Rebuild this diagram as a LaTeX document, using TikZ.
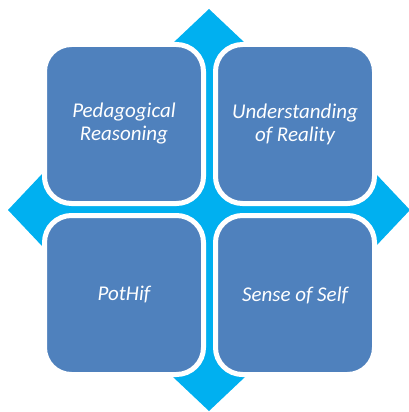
\documentclass[tikz,border=0pt]{standalone}
\usepackage{fontspec}
\setmainfont{Carlito}
\usetikzlibrary{positioning}
\definecolor{tileblue}{HTML}{4F81BD}
\definecolor{arrowcyan}{HTML}{00B0F0}

\begin{document}
\begin{tikzpicture}[x=1pt,y=-1pt,node distance=171pt,on grid,
    tile/.style={rectangle,draw=white,line width=5pt,fill=tileblue,
      rounded corners=27pt,minimum size=159pt,inner sep=0pt,
      text=white,align=center,font=\fontsize{21}{23}\selectfont\itshape},
    arm/.style={fill=arrowcyan}]
        \useasboundingbox (0,0) rectangle (409,412);
        \coordinate (c) at (209,210);
        % four-way arrow behind the tiles
        \foreach \r in {0,90,180,270}
          \fill[arm,shift={(c)},rotate=\r] (-30,0) -- (-30,167) -- (-36,167)
            -- (0,201) -- (36,167) -- (30,167) -- (30,0) -- cycle;
        \node[tile] (q_1) at (124,124) {Pedagogical\\Reasoning};
        \node[tile] (q_2) [right=of q_1] {Understanding\\of Reality};
        \node[tile] (q_3) [below=of q_1] {PotHif};
        \node[tile] (q_4) [right=of q_3] {Sense of Self};
      \end{tikzpicture}
\end{document}
